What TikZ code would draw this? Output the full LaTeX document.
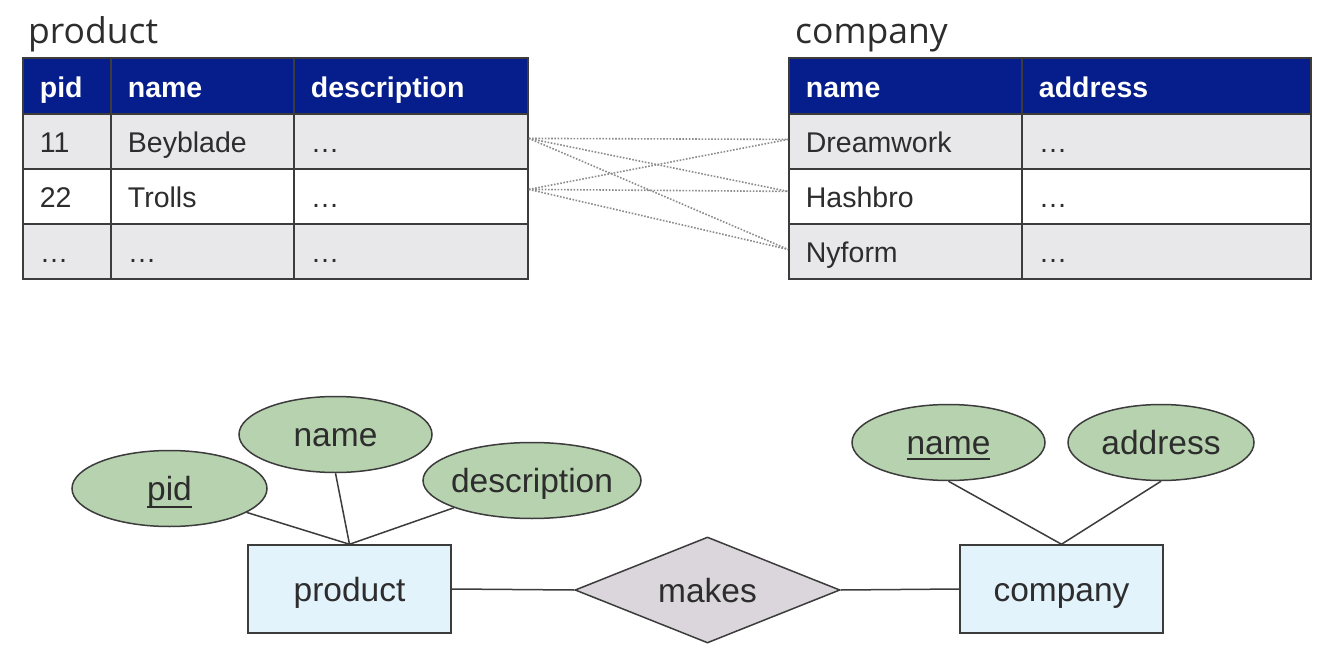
\documentclass[tikz,border=0pt]{standalone}
\usepackage{fontspec}
\setmainfont{Liberation Sans}
\newfontfamily\titlefont{Open Sans}
\usetikzlibrary{shapes.geometric}
\definecolor{hdr}{RGB}{6,30,140}
\definecolor{rowg}{RGB}{232,232,234}
\definecolor{bord}{RGB}{60,60,60}
\definecolor{attrc}{RGB}{183,210,175}
\definecolor{entc}{RGB}{227,243,252}
\definecolor{relc}{RGB}{218,214,219}
\definecolor{txt}{RGB}{45,45,45}
\definecolor{dotc}{RGB}{140,140,140}
\newcommand\keyul[2]{\setbox0\hbox{#2}\rlap{\rule[-#1]{\wd0}{1.8pt}}\box0}
\begin{document}
\begin{tikzpicture}[x=1pt,y=-1pt,
  cellbase/.style={draw=bord, line width=1.8pt, anchor=north west, inner xsep=17pt, inner ysep=0pt,
    text height=25pt, text depth=2pt, font=\fontsize{28.5}{30}\selectfont, align=left},
  hcell/.style={cellbase, fill=hdr, text=white, minimum height=56pt, font=\fontsize{28.5}{30}\selectfont\bfseries},
  gcell/.style={cellbase, fill=rowg, text=txt, minimum height=55pt},
  wcell/.style={cellbase, fill=white, text=txt, minimum height=55pt},
  ttl/.style={anchor=base west, inner sep=0pt, text=txt, font=\titlefont\fontsize{35.5}{40}\selectfont},
  link/.style={draw=dotc, line width=1.6pt, dash pattern=on 1.6pt off 1.6pt},
  erfont/.style={font=\fontsize{33.5}{36}\selectfont, text=txt, text height=25pt, text depth=1pt},
  attrib/.style={ellipse, draw=bord, fill=attrc, line width=1.5pt, inner sep=0pt, minimum height=76pt, erfont},
  entity/.style={rectangle, draw=bord, fill=entc, line width=1.5pt, minimum width=203pt, minimum height=88pt, erfont},
  relation/.style={diamond, aspect=2.5, draw=bord, fill=relc, line width=1.5pt, inner sep=0pt, minimum width=265pt, minimum height=106pt, erfont},
  erline/.style={draw=bord, line width=1.5pt}
]
\useasboundingbox (0,0) rectangle (1344,658);
\fill[white] (0,0) rectangle (1344,658);

% titles
\node[ttl] (ptitle) at (28,43.5) {product};
\node[ttl] (ctitle) at (795,43.5) {company};

% product table
\node[hcell, text width=54pt]  (ph1) at (22,57) {pid};
\node[hcell, text width=149pt] (ph2) at (110,57) {name};
\node[hcell, text width=200pt] (ph3) at (293,57) {description};
\node[gcell, text width=54pt]  (pa1) at (22,113) {11};
\node[gcell, text width=149pt] (pa2) at (110,113) {Beyblade};
\node[gcell, text width=200pt] (pa3) at (293,113) {\ldots};
\node[wcell, text width=54pt]  (pb1) at (22,168) {22};
\node[wcell, text width=149pt] (pb2) at (110,168) {Trolls};
\node[wcell, text width=200pt] (pb3) at (293,168) {\ldots};
\node[gcell, text width=54pt]  (pc1) at (22,223) {\ldots};
\node[gcell, text width=149pt] (pc2) at (110,223) {\ldots};
\node[gcell, text width=200pt] (pc3) at (293,223) {\ldots};

% company table
\node[hcell, text width=199pt] (ch1) at (788,57) {name};
\node[hcell, text width=255pt] (ch2) at (1021,57) {address};
\node[gcell, text width=199pt] (ca1) at (788,113) {Dreamwork};
\node[gcell, text width=255pt] (ca2) at (1021,113) {\ldots};
\node[wcell, text width=199pt] (cb1) at (788,168) {Hashbro};
\node[wcell, text width=255pt] (cb2) at (1021,168) {\ldots};
\node[gcell, text width=199pt] (cc1) at (788,223) {Nyform};
\node[gcell, text width=255pt] (cc2) at (1021,223) {\ldots};

% dotted links
\draw[link] ([yshift=3pt]pa3.east) -- ([yshift=2pt]ca1.west);
\draw[link] ([yshift=3pt]pa3.east) -- ([yshift=5pt]cb1.west);
\draw[link] ([yshift=3pt]pa3.east) -- ([yshift=2pt]cc1.west);
\draw[link] ([yshift=7pt]pb3.east) -- ([yshift=2pt]ca1.west);
\draw[link] ([yshift=7pt]pb3.east) -- ([yshift=5pt]cb1.west);
\draw[link] ([yshift=7pt]pb3.east) -- ([yshift=2pt]cc1.west);

% ER diagram
\node[entity] (eprod) at (349.5,589) {product};
\node[relation] (makes) at (707.5,590) {makes};
\node[entity] (ecomp) at (1061.5,589) {company};
\node[attrib, minimum width=195pt] (apid) at (169.5,488.5) {\keyul{7pt}{pid}};
\node[attrib, minimum width=193pt] (aname) at (335.5,434.5) {name};
\node[attrib, minimum width=218pt, inner xsep=-5pt] (adesc) at (532,480.5) {description};
\node[attrib, minimum width=193pt] (acname) at (948.5,442.5) {\keyul{5pt}{name}};
\node[attrib, minimum width=186pt] (aaddr) at (1161,442.5) {address};

\draw[erline] (apid) -- (eprod.north);
\draw[erline] (aname.south) -- (eprod.north);
\draw[erline] (adesc) -- (eprod.north);
\draw[erline] (acname.south) -- (ecomp.north);
\draw[erline] (aaddr.south) -- (ecomp.north);
\draw[erline] (eprod.east) -- (makes.west);
\draw[erline] (makes.east) -- (ecomp.west);
\end{tikzpicture}
\end{document}
